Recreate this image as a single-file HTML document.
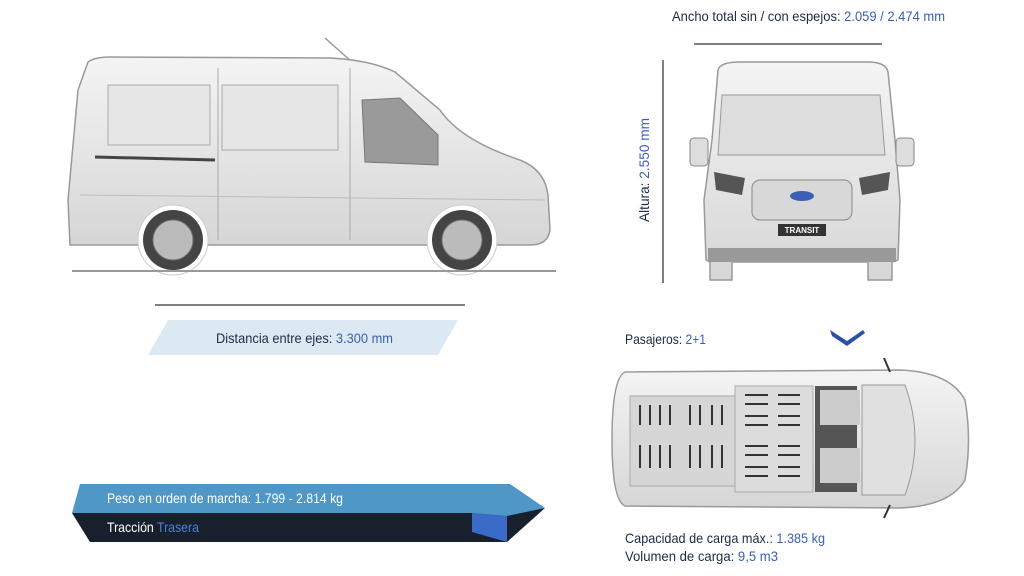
<!DOCTYPE html>
<html><head><meta charset="utf-8"><style>
html,body{margin:0;padding:0;background:#fff;width:1024px;height:576px;overflow:hidden}
svg{display:block}
text{font-family:"Liberation Sans",sans-serif}
</style></head><body>
<svg width="1024" height="576" viewBox="0 0 1024 576" xmlns="http://www.w3.org/2000/svg">
<defs>
<linearGradient id="bd" x1="0" y1="0" x2="0" y2="1"><stop offset="0" stop-color="#f4f4f4"/><stop offset="1" stop-color="#d6d6d6"/></linearGradient>
</defs>
<text x="672" y="21" font-size="14" fill="#1e2a44" textLength="273" lengthAdjust="spacingAndGlyphs">Ancho total sin / con espejos: <tspan fill="#3a5fb5">2.059 / 2.474 mm</tspan></text>
<line x1="694" y1="44" x2="882" y2="44" stroke="#555" stroke-width="1.5"/>
<line x1="663" y1="60" x2="663" y2="283" stroke="#555" stroke-width="1.5"/>
<text transform="translate(649,170) rotate(-90)" text-anchor="middle" font-size="14" fill="#1e2a44" textLength="104" lengthAdjust="spacingAndGlyphs">Altura: <tspan fill="#3a5fb5">2.550 mm</tspan></text>

<!-- side van -->
<line x1="325" y1="38" x2="352" y2="62" stroke="#999" stroke-width="1.5"/>
<path d="M88,62 Q95,57 110,57 L330,58 Q370,60 395,72 L440,110 Q460,140 520,160 Q545,170 548,195 L550,230 Q548,245 530,245 L70,245 L68,200 L78,90 Z" fill="url(#bd)" stroke="#999" stroke-width="1.5"/>
<path d="M108,85 L210,85 L210,145 L108,145 Z" fill="#e6e6e6" stroke="#aaa"/>
<path d="M222,85 L338,85 L338,150 L222,150 Z" fill="#e6e6e6" stroke="#aaa"/>
<path d="M362,100 L400,98 L438,135 L438,165 L365,162 Z" fill="#9a9a9a" stroke="#777"/>
<line x1="218" y1="68" x2="218" y2="240" stroke="#aaa"/>
<line x1="350" y1="68" x2="350" y2="240" stroke="#aaa"/>
<line x1="95" y1="157" x2="215" y2="160" stroke="#444" stroke-width="3"/>
<line x1="80" y1="195" x2="545" y2="200" stroke="#bbb"/>
<circle cx="173" cy="240" r="35" fill="#fff" stroke="#ccc"/>
<circle cx="173" cy="240" r="30" fill="#444"/>
<circle cx="173" cy="240" r="20" fill="#bbb" stroke="#777"/>
<circle cx="462" cy="240" r="35" fill="#fff" stroke="#ccc"/>
<circle cx="462" cy="240" r="30" fill="#444"/>
<circle cx="462" cy="240" r="20" fill="#bbb" stroke="#777"/>
<line x1="72" y1="271" x2="556" y2="271" stroke="#999" stroke-width="2"/>

<line x1="155" y1="305" x2="465" y2="305" stroke="#555" stroke-width="1.5"/>
<polygon points="168,320 458,320 438,355 148,355" fill="#dde9f2"/>
<text x="216" y="343" font-size="14" fill="#1e2a44" textLength="177" lengthAdjust="spacingAndGlyphs">Distancia entre ejes: <tspan fill="#3a5fb5">3.300 mm</tspan></text>

<!-- front van -->
<path d="M718,70 Q720,62 740,62 L868,62 Q886,62 888,72 L895,140 L900,200 L898,260 L892,262 L892,280 L868,280 L868,262 L732,262 L732,280 L710,280 L710,262 L706,260 L704,200 L712,140 Z" fill="url(#bd)" stroke="#999" stroke-width="1.5"/>
<path d="M722,95 L880,95 L885,155 L718,155 Z" fill="#ddd" stroke="#999"/>
<rect x="690" y="138" width="18" height="28" rx="4" fill="#ddd" stroke="#888"/>
<rect x="896" y="138" width="18" height="28" rx="4" fill="#ddd" stroke="#888"/>
<path d="M714,172 L745,178 L742,195 L716,190 Z" fill="#555"/>
<path d="M890,172 L859,178 L862,195 L888,190 Z" fill="#555"/>
<rect x="752" y="180" width="100" height="40" rx="8" fill="#d8d8d8" stroke="#888"/>
<ellipse cx="802" cy="196" rx="12" ry="5" fill="#3a5fb5"/>
<rect x="778" y="224" width="48" height="12" fill="#333"/>
<text x="802" y="233" font-size="8" fill="#fff" text-anchor="middle" font-weight="bold">TRANSIT</text>
<rect x="708" y="248" width="188" height="14" fill="#999"/>

<text x="625" y="344" font-size="14" fill="#1e2a44" textLength="81" lengthAdjust="spacingAndGlyphs">Pasajeros: <tspan fill="#3a5fb5">2+1</tspan></text>
<polygon points="830,330 847,341 863,330 865,333 847,346 832,336" fill="#2b4fa8"/>

<!-- top van -->
<path d="M625,372 L900,370 Q950,372 965,400 Q972,440 965,480 Q950,506 900,508 L625,506 Q612,500 612,440 Q612,378 625,372 Z" fill="url(#bd)" stroke="#999" stroke-width="1.5"/>
<rect x="630" y="396" width="105" height="90" fill="#d6d6d6" stroke="#aaa"/>
<rect x="735" y="386" width="78" height="106" fill="#dcdcdc" stroke="#aaa"/>
<rect x="815" y="386" width="42" height="106" fill="#555"/>
<rect x="820" y="390" width="40" height="35" fill="#ccc"/>
<rect x="820" y="448" width="40" height="35" fill="#ccc"/>
<path d="M862,385 L905,385 Q925,440 905,495 L862,495 Z" fill="#e0e0e0" stroke="#999"/>
<g stroke="#333" stroke-width="2">
<line x1="640" y1="405" x2="640" y2="425"/><line x1="650" y1="405" x2="650" y2="425"/><line x1="660" y1="405" x2="660" y2="425"/><line x1="670" y1="405" x2="670" y2="425"/>
<line x1="640" y1="445" x2="640" y2="468"/><line x1="650" y1="445" x2="650" y2="468"/><line x1="660" y1="445" x2="660" y2="468"/><line x1="670" y1="445" x2="670" y2="468"/>
<line x1="690" y1="405" x2="690" y2="425"/><line x1="700" y1="405" x2="700" y2="425"/><line x1="712" y1="405" x2="712" y2="425"/><line x1="722" y1="405" x2="722" y2="425"/>
<line x1="690" y1="445" x2="690" y2="468"/><line x1="700" y1="445" x2="700" y2="468"/><line x1="712" y1="445" x2="712" y2="468"/><line x1="722" y1="445" x2="722" y2="468"/>
<line x1="745" y1="395" x2="768" y2="395"/><line x1="778" y1="395" x2="800" y2="395"/>
<line x1="745" y1="404" x2="768" y2="404"/><line x1="778" y1="404" x2="800" y2="404"/>
<line x1="745" y1="416" x2="768" y2="416"/><line x1="778" y1="416" x2="800" y2="416"/>
<line x1="745" y1="425" x2="768" y2="425"/><line x1="778" y1="425" x2="800" y2="425"/>
<line x1="745" y1="446" x2="768" y2="446"/><line x1="778" y1="446" x2="800" y2="446"/>
<line x1="745" y1="455" x2="768" y2="455"/><line x1="778" y1="455" x2="800" y2="455"/>
<line x1="745" y1="467" x2="768" y2="467"/><line x1="778" y1="467" x2="800" y2="467"/>
<line x1="745" y1="476" x2="768" y2="476"/><line x1="778" y1="476" x2="800" y2="476"/>
<line x1="884" y1="358" x2="890" y2="372"/><line x1="884" y1="518" x2="890" y2="505"/>
</g>
<text x="625" y="543" font-size="14" fill="#1e2a44" textLength="200" lengthAdjust="spacingAndGlyphs">Capacidad de carga máx.: <tspan fill="#3a5fb5">1.385 kg</tspan></text>
<text x="625" y="561" font-size="14" fill="#1e2a44" textLength="153" lengthAdjust="spacingAndGlyphs">Volumen de carga: <tspan fill="#3a5fb5">9,5 m3</tspan></text>

<!-- banner -->
<polygon points="72,513 90,542 507,542 545,508 472,513" fill="#17202c"/>
<polygon points="472,513 507,516 507,542 472,532" fill="#3c6ac8"/>
<polygon points="80,484 510,484 545,508 507,516 472,513 72,513" fill="#4f97c6"/>
<text x="107" y="503" font-size="14" fill="#fff" textLength="236" lengthAdjust="spacingAndGlyphs">Peso en orden de marcha: 1.799 - 2.814 kg</text>
<text x="107" y="532" font-size="14" fill="#fff" textLength="92" lengthAdjust="spacingAndGlyphs">Tracción <tspan fill="#4f7fd6">Trasera</tspan></text>
</svg>
</body></html>
